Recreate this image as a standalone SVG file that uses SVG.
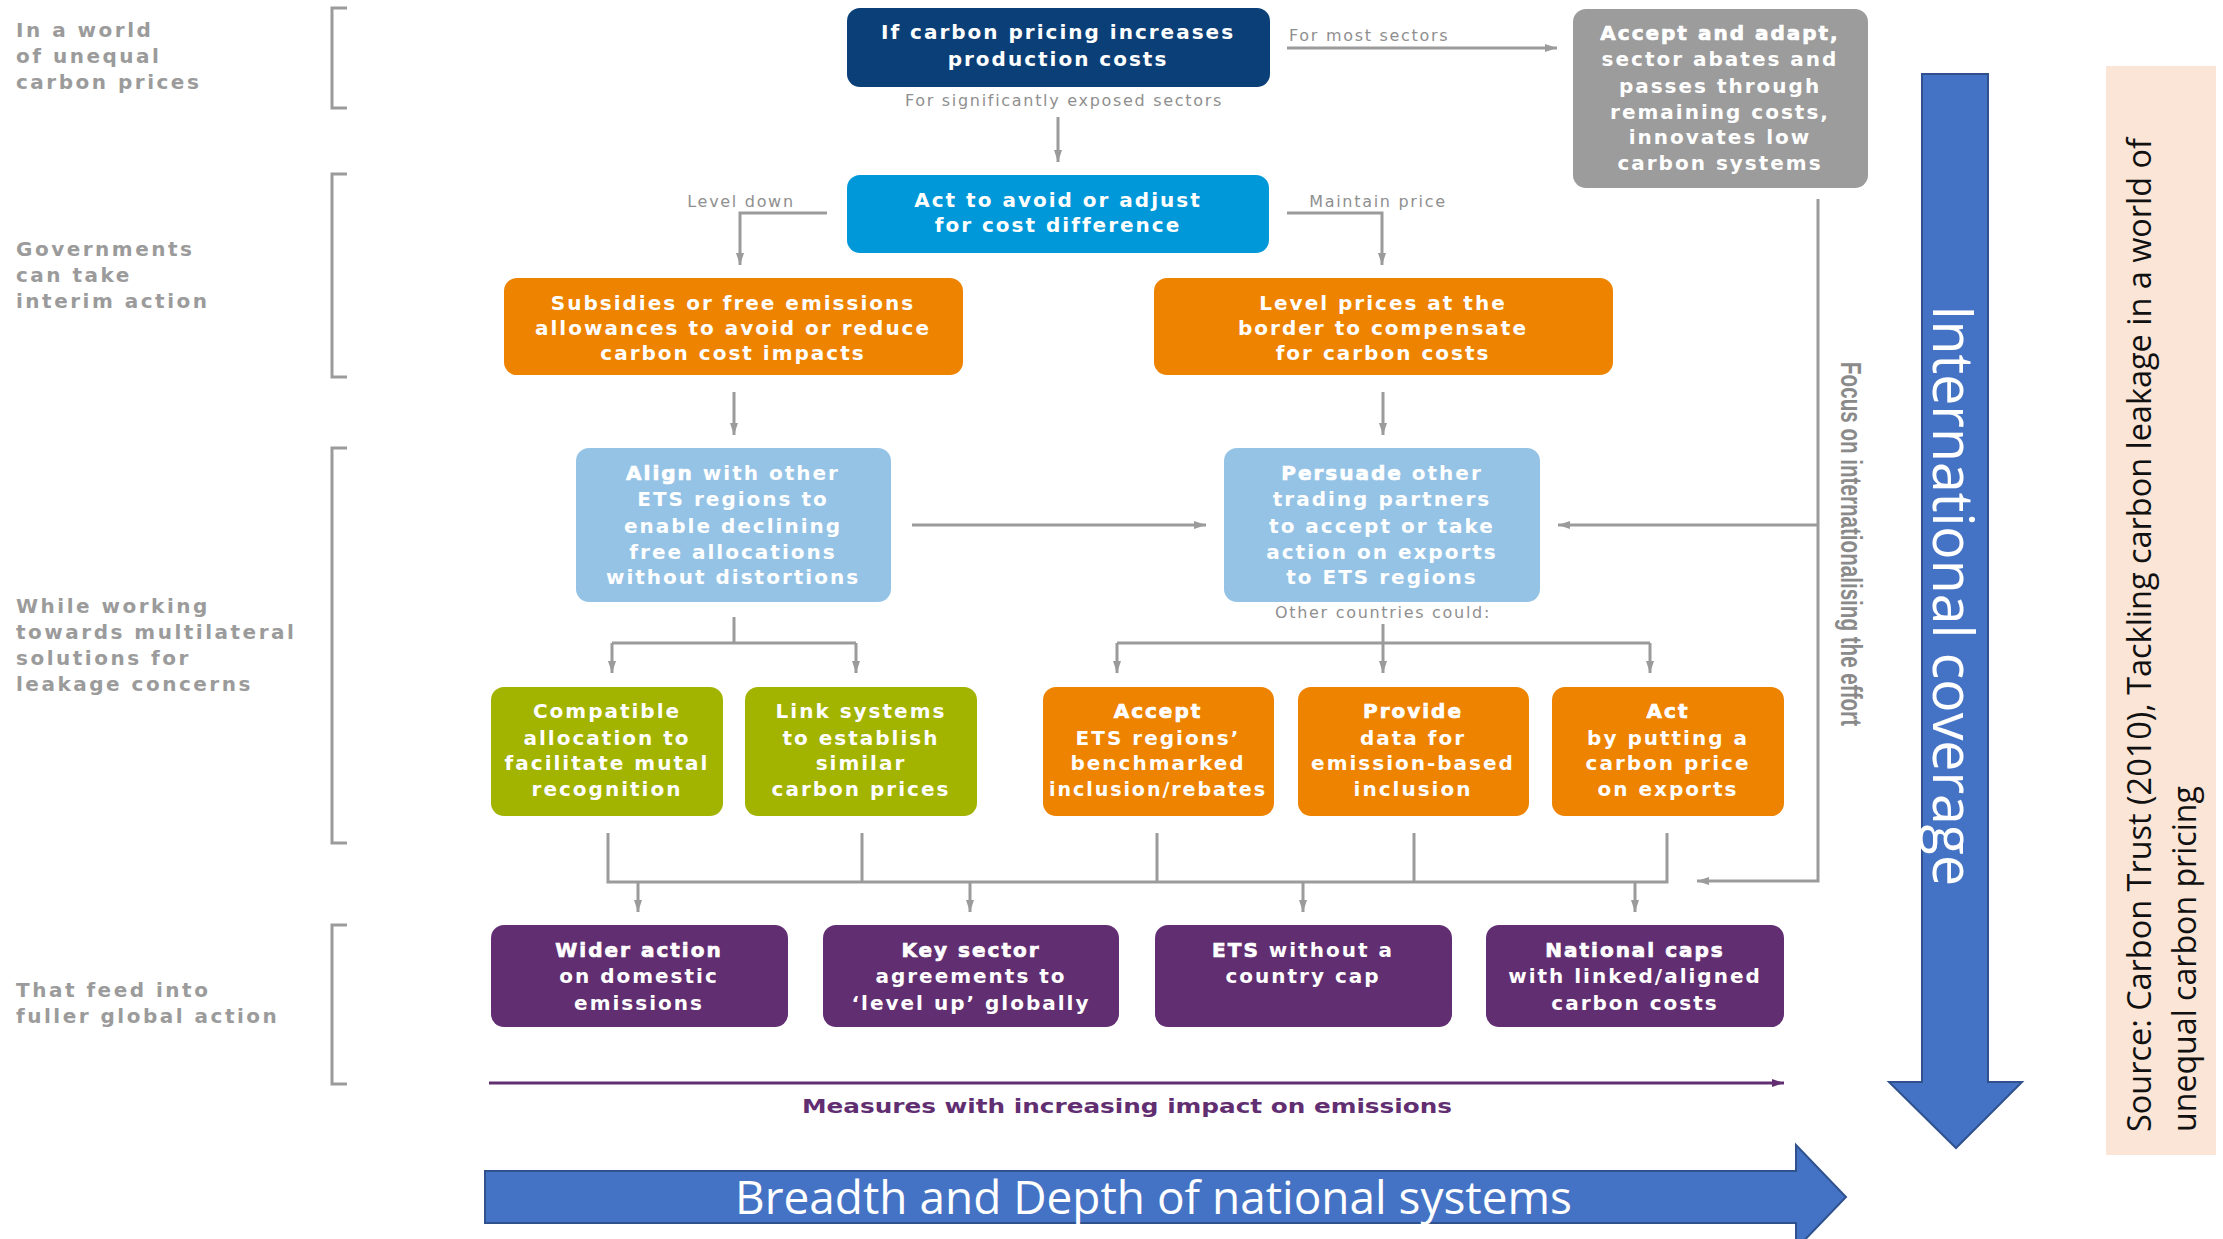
<svg xmlns="http://www.w3.org/2000/svg" width="2223" height="1239" viewBox="0 0 2223 1239">
<defs>
<marker id="ah" viewBox="0 0 12 10" refX="12" refY="5" markerWidth="12" markerHeight="10" markerUnits="userSpaceOnUse" orient="auto"><path d="M0,1 L12,5 L0,9 z" fill="#9b9b9b"/></marker>
<marker id="ahp" viewBox="0 0 12 10" refX="12" refY="5" markerWidth="14" markerHeight="10" markerUnits="userSpaceOnUse" orient="auto"><path d="M0,1 L12,5 L0,9 z" fill="#622e72"/></marker>
</defs>
<style>
.n text{font-family:"DejaVu Sans","Liberation Sans",sans-serif;font-weight:bold;font-size:20px;fill:#fff;letter-spacing:2px;text-anchor:middle}
.em{stroke:#fff;stroke-width:0.7px}
.lbl{font-family:"DejaVu Sans","Liberation Sans",sans-serif;font-weight:bold;font-size:20px;fill:#9b9b9b;letter-spacing:2.5px}
.sm{font-family:"DejaVu Sans","Liberation Sans",sans-serif;font-size:16px;fill:#8f8f8f;letter-spacing:1.7px}
.c{stroke:#9b9b9b;stroke-width:3;fill:none}
.br{stroke:#9b9b9b;stroke-width:3;fill:none}
.navy{fill:#0b3f77}.blue{fill:#0098d8}.orange{fill:#ee8300}.grey{fill:#9c9c9c}.lb{fill:#95c3e6}.green{fill:#a2b300}.purple{fill:#622e72}
.big{font-family:"Open Sans","Liberation Sans",sans-serif;fill:#fff}
</style>
<rect width="2223" height="1239" fill="#fff"/>

<!-- left row labels and brackets -->
<g id="row-labels">
<text class="lbl"><tspan x="16" y="37">In a world</tspan><tspan x="16" y="63">of unequal</tspan><tspan x="16" y="89">carbon prices</tspan></text>
<text class="lbl"><tspan x="16" y="256">Governments</tspan><tspan x="16" y="282">can take</tspan><tspan x="16" y="308">interim action</tspan></text>
<text class="lbl"><tspan x="16" y="613">While working</tspan><tspan x="16" y="639">towards multilateral</tspan><tspan x="16" y="665">solutions for</tspan><tspan x="16" y="691">leakage concerns</tspan></text>
<text class="lbl"><tspan x="16" y="997">That feed into</tspan><tspan x="16" y="1023">fuller global action</tspan></text>
<path class="br" d="M347,8 H332 V108 H347"/>
<path class="br" d="M347,174 H332 V377 H347"/>
<path class="br" d="M347,448 H332 V843 H347"/>
<path class="br" d="M347,925 H332 V1084 H347"/>
</g>

<!-- connectors -->
<g id="connectors">
<path class="c" d="M1058,117 V162" marker-end="url(#ah)"/>
<path class="c" d="M1287,48 H1557" marker-end="url(#ah)"/>
<path class="c" d="M827,213 H740 V265" marker-end="url(#ah)"/>
<path class="c" d="M1287,213 H1382 V265" marker-end="url(#ah)"/>
<path class="c" d="M734,392 V435" marker-end="url(#ah)"/>
<path class="c" d="M1383,392 V435" marker-end="url(#ah)"/>
<path class="c" d="M912,525 H1206" marker-end="url(#ah)"/>
<path class="c" d="M1818,199 V881 H1697" marker-end="url(#ah)"/>
<path class="c" d="M1818,525 H1558" marker-end="url(#ah)"/>
<path class="c" d="M734,617 V643"/>
<path class="c" d="M612,643 H856"/>
<path class="c" d="M612,643 V673" marker-end="url(#ah)"/>
<path class="c" d="M856,643 V673" marker-end="url(#ah)"/>
<path class="c" d="M1383,624 V673" marker-end="url(#ah)"/>
<path class="c" d="M1117,643 H1650"/>
<path class="c" d="M1117,643 V673" marker-end="url(#ah)"/>
<path class="c" d="M1650,643 V673" marker-end="url(#ah)"/>
<path class="c" d="M608,833 V882 H1667 V833"/>
<path class="c" d="M862,833 V882"/>
<path class="c" d="M1157,833 V882"/>
<path class="c" d="M1414,833 V882"/>
<path class="c" d="M638,882 V912" marker-end="url(#ah)"/>
<path class="c" d="M970,882 V912" marker-end="url(#ah)"/>
<path class="c" d="M1303,882 V912" marker-end="url(#ah)"/>
<path class="c" d="M1635,882 V912" marker-end="url(#ah)"/>
<text class="sm" x="1064" y="106" text-anchor="middle">For significantly exposed sectors</text>
<text class="sm" x="1289" y="41">For most sectors</text>
<text class="sm" x="741" y="207" text-anchor="middle">Level down</text>
<text class="sm" x="1378" y="207" text-anchor="middle">Maintain price</text>
<text class="sm" x="1383" y="618" text-anchor="middle">Other countries could:</text>
<text x="0" y="0" transform="translate(1841,362) rotate(90)" font-family="'Liberation Sans',Arial,sans-serif" font-weight="bold" font-size="30" fill="#8a8a8a" textLength="364" lengthAdjust="spacingAndGlyphs">Focus on internationalising the effort</text>
<path d="M489,1083 H1784" stroke="#622e72" stroke-width="3" fill="none" marker-end="url(#ahp)"/>
<text x="1127" y="1113" text-anchor="middle" font-family="'DejaVu Sans',sans-serif" font-weight="bold" font-size="20" fill="#622e72" textLength="650" lengthAdjust="spacingAndGlyphs">Measures with increasing impact on emissions</text>
</g>

<!-- nodes -->
<g id="n-start" class="n"><rect class="navy" x="847" y="8" width="423" height="79" rx="13"/>
<text><tspan x="1058" y="39">If carbon pricing increases</tspan><tspan x="1058" y="66">production costs</tspan></text></g>

<g id="n-accept-adapt" class="n"><rect class="grey" x="1573" y="9" width="295" height="179" rx="13"/>
<text><tspan x="1720" y="40" class="em">Accept and adapt,</tspan><tspan x="1720" y="66">sector abates and</tspan><tspan x="1720" y="93">passes through</tspan><tspan x="1720" y="119">remaining costs,</tspan><tspan x="1720" y="144">innovates low</tspan><tspan x="1720" y="170">carbon systems</tspan></text></g>

<g id="n-act-avoid" class="n"><rect class="blue" x="847" y="175" width="422" height="78" rx="13"/>
<text><tspan x="1058" y="207">Act to avoid or adjust</tspan><tspan x="1058" y="232">for cost difference</tspan></text></g>

<g id="n-subsidies" class="n"><rect class="orange" x="504" y="278" width="459" height="97" rx="13"/>
<text><tspan x="733" y="310">Subsidies or free emissions</tspan><tspan x="733" y="335">allowances to avoid or reduce</tspan><tspan x="733" y="360">carbon cost impacts</tspan></text></g>

<g id="n-level-prices" class="n"><rect class="orange" x="1154" y="278" width="459" height="97" rx="13"/>
<text><tspan x="1383" y="310">Level prices at the</tspan><tspan x="1383" y="335">border to compensate</tspan><tspan x="1383" y="360">for carbon costs</tspan></text></g>

<g id="n-align" class="n"><rect class="lb" x="576" y="448" width="315" height="154" rx="13"/>
<text><tspan x="733" y="480"><tspan class="em">Align</tspan> with other</tspan><tspan x="733" y="506">ETS regions to</tspan><tspan x="733" y="533">enable declining</tspan><tspan x="733" y="559">free allocations</tspan><tspan x="733" y="584">without distortions</tspan></text></g>

<g id="n-persuade" class="n"><rect class="lb" x="1224" y="448" width="316" height="154" rx="13"/>
<text><tspan x="1382" y="480"><tspan class="em">Persuade</tspan> other</tspan><tspan x="1382" y="506">trading partners</tspan><tspan x="1382" y="533">to accept or take</tspan><tspan x="1382" y="559">action on exports</tspan><tspan x="1382" y="584">to ETS regions</tspan></text></g>

<g id="n-compatible" class="n"><rect class="green" x="491" y="687" width="232" height="129" rx="13"/>
<text><tspan x="607" y="718">Compatible</tspan><tspan x="607" y="745">allocation to</tspan><tspan x="607" y="770">facilitate mutal</tspan><tspan x="607" y="796">recognition</tspan></text></g>

<g id="n-link" class="n"><rect class="green" x="745" y="687" width="232" height="129" rx="13"/>
<text><tspan x="861" y="718">Link systems</tspan><tspan x="861" y="745">to establish</tspan><tspan x="861" y="770">similar</tspan><tspan x="861" y="796">carbon prices</tspan></text></g>

<g id="n-accept" class="n"><rect class="orange" x="1043" y="687" width="231" height="129" rx="13"/>
<text><tspan x="1158" y="718" class="em">Accept</tspan><tspan x="1158" y="745">ETS regions’</tspan><tspan x="1158" y="770">benchmarked</tspan><tspan x="1158" y="796" textLength="218" lengthAdjust="spacingAndGlyphs">inclusion/rebates</tspan></text></g>

<g id="n-provide" class="n"><rect class="orange" x="1298" y="687" width="231" height="129" rx="13"/>
<text><tspan x="1413" y="718" class="em">Provide</tspan><tspan x="1413" y="745">data for</tspan><tspan x="1413" y="770">emission-based</tspan><tspan x="1413" y="796">inclusion</tspan></text></g>

<g id="n-act-exports" class="n"><rect class="orange" x="1552" y="687" width="232" height="129" rx="13"/>
<text><tspan x="1668" y="718" class="em">Act</tspan><tspan x="1668" y="745">by putting a</tspan><tspan x="1668" y="770">carbon price</tspan><tspan x="1668" y="796">on exports</tspan></text></g>

<g id="n-wider" class="n"><rect class="purple" x="491" y="925" width="297" height="102" rx="13"/>
<text><tspan x="639" y="957" class="em">Wider action</tspan><tspan x="639" y="983">on domestic</tspan><tspan x="639" y="1010">emissions</tspan></text></g>

<g id="n-key-sector" class="n"><rect class="purple" x="823" y="925" width="296" height="102" rx="13"/>
<text><tspan x="971" y="957" class="em">Key sector</tspan><tspan x="971" y="983">agreements to</tspan><tspan x="971" y="1010">‘level up’ globally</tspan></text></g>

<g id="n-ets-nocap" class="n"><rect class="purple" x="1155" y="925" width="297" height="102" rx="13"/>
<text><tspan x="1303" y="957"><tspan class="em">ETS</tspan> without a</tspan><tspan x="1303" y="983">country cap</tspan></text></g>

<g id="n-national-caps" class="n"><rect class="purple" x="1486" y="925" width="298" height="102" rx="13"/>
<text><tspan x="1635" y="957" class="em">National caps</tspan><tspan x="1635" y="983">with linked/aligned</tspan><tspan x="1635" y="1010">carbon costs</tspan></text></g>

<!-- big arrows -->
<g id="arrow-breadth">
<path d="M485,1171 H1796 V1145 L1846,1197 L1796,1249 V1223 H485 Z" fill="#4472c4" stroke="#2f528f" stroke-width="2"/>
<text class="big" x="735" y="1214" font-size="45" textLength="837" lengthAdjust="spacingAndGlyphs">Breadth and Depth of national systems</text>
</g>
<g id="arrow-coverage">
<path d="M1922,74 H1988 V1082 H2022 L1956,1148 L1889,1082 H1922 Z" fill="#4472c4" stroke="#2f528f" stroke-width="2"/>
<text class="big" x="0" y="0" transform="translate(1933,305) rotate(90)" font-size="57" textLength="581" lengthAdjust="spacingAndGlyphs">International coverage</text>
</g>

<!-- source note -->
<g id="source">
<rect x="2106" y="66" width="110" height="1089" fill="#fbe5d6"/>
<text x="0" y="0" transform="translate(2151,1132) rotate(-90)" font-family="'Open Sans','Liberation Sans',sans-serif" font-size="33" fill="#111" textLength="994" lengthAdjust="spacingAndGlyphs">Source: Carbon Trust (2010), Tackling carbon leakage in a world of</text>
<text x="0" y="0" transform="translate(2196,1132) rotate(-90)" font-family="'Open Sans','Liberation Sans',sans-serif" font-size="33" fill="#111" textLength="346" lengthAdjust="spacingAndGlyphs">unequal carbon pricing</text>
</g>
</svg>
